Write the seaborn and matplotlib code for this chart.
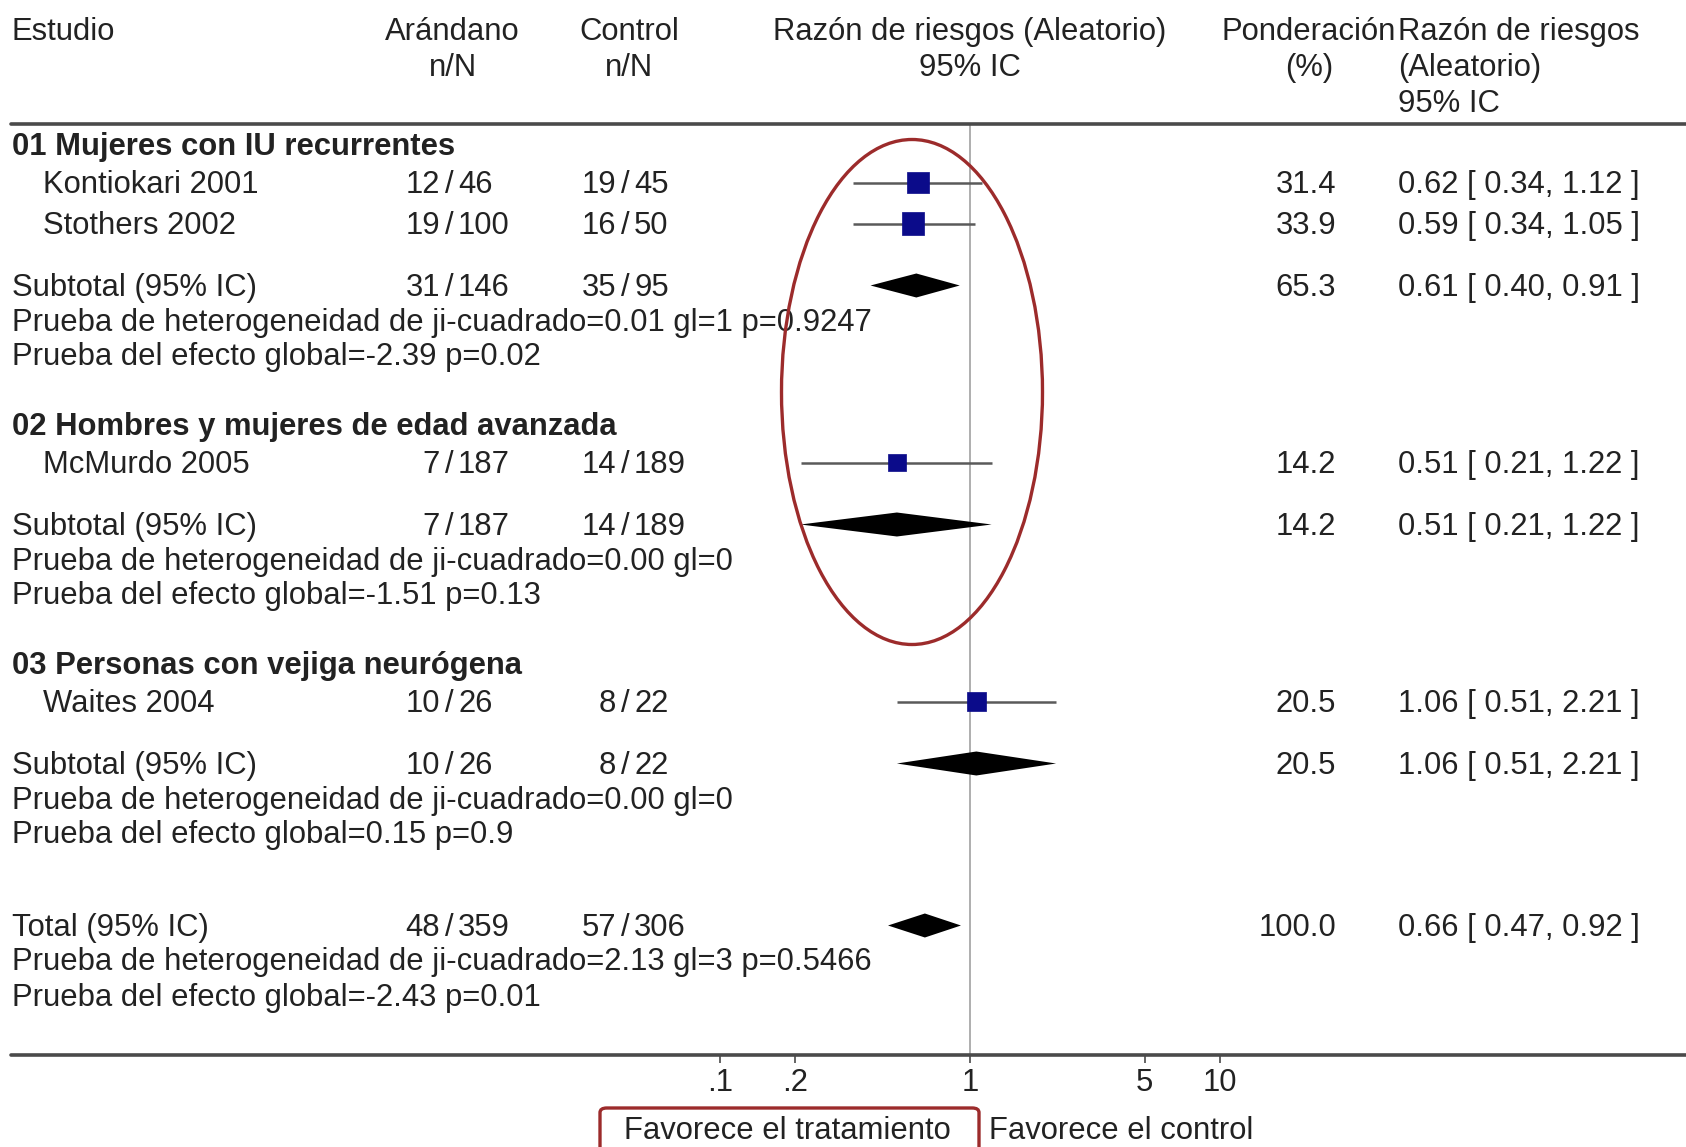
import numpy as np
import pandas as pd
import matplotlib
matplotlib.use("Agg")
import matplotlib.pyplot as plt
from matplotlib.patches import Ellipse, FancyBboxPatch
import seaborn as sns

# ---------------- data ----------------
group_titles = ["01 Mujeres con IU recurrentes",
                "02 Hombres y mujeres de edad avanzada",
                "03 Personas con vejiga neurógena"]

study_names = ["Kontiokari 2001", "Stothers 2002", "McMurdo 2005", "Waites 2004"]
study_group = [0, 0, 1, 2]
study_cran_n = [12, 19, 7, 10]
study_cran_N = [46, 100, 187, 26]
study_ctrl_n = [19, 16, 14, 8]
study_ctrl_N = [45, 50, 189, 22]
study_weight = [31.4, 33.9, 14.2, 20.5]
study_rr = [0.62, 0.59, 0.51, 1.06]
study_lo = [0.34, 0.34, 0.21, 0.51]
study_hi = [1.12, 1.05, 1.22, 2.21]

sub_cran_n = [31, 7, 10]
sub_cran_N = [146, 187, 26]
sub_ctrl_n = [35, 14, 8]
sub_ctrl_N = [95, 189, 22]
sub_weight = [65.3, 14.2, 20.5]
sub_rr = [0.61, 0.51, 1.06]
sub_lo = [0.40, 0.21, 0.51]
sub_hi = [0.91, 1.22, 2.21]
sub_het = ["Prueba de heterogeneidad de ji-cuadrado=0.01 gl=1 p=0.9247",
           "Prueba de heterogeneidad de ji-cuadrado=0.00 gl=0",
           "Prueba de heterogeneidad de ji-cuadrado=0.00 gl=0"]
sub_eff = ["Prueba del efecto global=-2.39 p=0.02",
           "Prueba del efecto global=-1.51 p=0.13",
           "Prueba del efecto global=0.15 p=0.9"]

total_cran = (48, 359)
total_ctrl = (57, 306)
total_weight = 100.0
total_rr, total_lo, total_hi = 0.66, 0.47, 0.92
total_het = "Prueba de heterogeneidad de ji-cuadrado=2.13 gl=3 p=0.5466"
total_eff = "Prueba del efecto global=-2.43 p=0.01"

tick_values = [0.1, 0.2, 1, 5, 10]
tick_labels = [".1", ".2", "1", "5", "10"]

# ---------------- style ----------------
sns.set_theme(style="white")
plt.rcParams["font.family"] = ["Liberation Sans", "DejaVu Sans"]

W, H = 1686, 1147
FS = 22.3
TXT = "#222222"
RED = "#9c2b2b"
MARK_DY = -2.5   # marks sit on the optical centre line of the row text

fig = plt.figure(figsize=(W / 100, H / 100), dpi=100)
fig.patch.set_facecolor("white")
ax = fig.add_axes([0, 0, 1, 1])

# ---------------- row layout (pixels from top) ----------------
rows = []  # (kind, index, y)
y = 147
for g in range(3):
    rows.append(("group", g, y))
    members = [i for i, sg in enumerate(study_group) if sg == g]
    y += 38
    for k, i in enumerate(members):
        if k > 0:
            y += 41
        rows.append(("study", i, y))
    y += 62
    rows.append(("sub", g, y))
    rows.append(("het", g, y + 35))
    rows.append(("eff", g, y + 69))
    y += 69 + 70
y_total = 928

study_y = {i: yy for kind, i, yy in rows if kind == "study"}
sub_y = {g: yy for kind, g, yy in rows if kind == "sub"}

df = pd.DataFrame({
    "name": study_names,
    "rr": study_rr,
    "lo": study_lo,
    "hi": study_hi,
    "weight": study_weight,
    "y": [study_y[i] + MARK_DY for i in range(len(study_names))],
})

# ---------------- axes scale: log risk ratio ----------------
X_ONE = 970.0     # pixel of RR = 1
DECADE = 250.0    # pixels per decade
ax.set_xscale("log")
xlim = (10 ** (-X_ONE / DECADE), 10 ** ((W - X_ONE) / DECADE))

Y_TOP_LINE = 124
Y_BOT_LINE = 1055

# reference line at RR = 1
ax.vlines(1, Y_TOP_LINE, Y_BOT_LINE, color="#a8a8a8", lw=1.3, zorder=1)

# confidence intervals of individual studies
ax.hlines(df["y"], df["lo"], df["hi"], color="#5a5a5a", lw=1.8, zorder=2)

# weighted squares
sns.scatterplot(data=df, x="rr", y="y", size="weight", sizes=(160, 260),
                size_norm=(14.2, 33.9), marker="s", color="#0b0b8a",
                edgecolor="#0b0b8a", linewidth=0.5, legend=False, ax=ax, zorder=3)


def diamond(rr, lo, hi, yc, half=12):
    yc = yc + MARK_DY
    ax.fill([lo, rr, hi, rr], [yc, yc - half, yc, yc + half],
            color="black", lw=0, zorder=3)


for g in range(3):
    diamond(sub_rr[g], sub_lo[g], sub_hi[g], sub_y[g])
diamond(total_rr, total_lo, total_hi, y_total)

ax.set_xlim(*xlim)
ax.set_ylim(H, 0)
ax.axis("off")

# horizontal rules
ax.axhline(Y_TOP_LINE, xmin=11 / W, xmax=1, color="#4a4a4a", lw=2.6)
ax.axhline(Y_BOT_LINE, xmin=11 / W, xmax=1, color="#4a4a4a", lw=2.6)

# x ticks
ax.vlines(tick_values, Y_BOT_LINE, Y_BOT_LINE + 8, color="#4a4a4a", lw=1.2)
for tv, tl in zip(tick_values, tick_labels):
    ax.text(tv, 1083, tl, ha="center", va="center", fontsize=FS, color=TXT)


# ---------------- text columns ----------------
def T(xp, yp, s, ha="left", bold=False, **kw):
    ax.text(xp / W, yp, s, ha=ha, va="center", fontsize=FS, color=TXT,
            fontweight="bold" if bold else "normal",
            transform=ax.get_yaxis_transform(), **kw)


def nN(xs, yp, n, N):
    T(xs - 9, yp, f"{n}", ha="right")
    T(xs, yp, "/", ha="center")
    T(xs + 9, yp, f"{N}", ha="left")


def rr_txt(rr, lo, hi):
    return f"{rr:.2f} [ {lo:.2f}, {hi:.2f} ]"


X_CRAN, X_CTRL = 449, 625
X_WT = 1336
X_RR = 1398

# header
T(12, 32, "Estudio")
T(452, 32, "Arándano", ha="center")
T(453, 68, "n/N", ha="center")
T(629, 32, "Control", ha="center")
T(629, 68, "n/N", ha="center")
T(970, 32, "Razón de riesgos (Aleatorio)", ha="center")
T(970, 68, "95% IC", ha="center")
T(1309, 32, "Ponderación", ha="center")
T(1309, 68, "(%)", ha="center")
T(X_RR, 32, "Razón de riesgos")
T(X_RR, 68, "(Aleatorio)")
T(X_RR, 104, "95% IC")

for kind, i, yp in rows:
    if kind == "group":
        T(12, yp, group_titles[i], bold=True)
    elif kind == "study":
        T(43, yp, study_names[i])
        nN(X_CRAN, yp, study_cran_n[i], study_cran_N[i])
        nN(X_CTRL, yp, study_ctrl_n[i], study_ctrl_N[i])
        T(X_WT, yp, f"{study_weight[i]:.1f}", ha="right")
        T(X_RR, yp, rr_txt(study_rr[i], study_lo[i], study_hi[i]))
    elif kind == "sub":
        T(12, yp, "Subtotal (95% IC)")
        nN(X_CRAN, yp, sub_cran_n[i], sub_cran_N[i])
        nN(X_CTRL, yp, sub_ctrl_n[i], sub_ctrl_N[i])
        T(X_WT, yp, f"{sub_weight[i]:.1f}", ha="right")
        T(X_RR, yp, rr_txt(sub_rr[i], sub_lo[i], sub_hi[i]))
    elif kind == "het":
        T(12, yp, sub_het[i])
    elif kind == "eff":
        T(12, yp, sub_eff[i])

T(12, y_total, "Total (95% IC)")
nN(X_CRAN, y_total, *total_cran)
nN(X_CTRL, y_total, *total_ctrl)
T(X_WT, y_total, f"{total_weight:.1f}", ha="right")
T(X_RR, y_total, rr_txt(total_rr, total_lo, total_hi))
T(12, y_total + 34, total_het)
T(12, y_total + 70, total_eff)

# favour labels
T(787, 1131, "Favorece el tratamiento", ha="center")
T(989, 1131, "Favorece el control")

# highlight marks
ell = Ellipse((912 / W, 1 - 392 / H), 261 / W, 505 / H, transform=ax.transAxes,
              fill=False, edgecolor=RED, lw=2.4, zorder=5)
ax.add_patch(ell)
box = FancyBboxPatch((600 / W, 1 - 1152 / H), 379 / W, 44 / H,
                     boxstyle="round,pad=0,rounding_size=0.004",
                     transform=ax.transAxes, fill=False, edgecolor=RED,
                     lw=2.4, clip_on=False, zorder=5)
ax.add_patch(box)

fig.savefig("out.png", dpi=100, facecolor="white")
